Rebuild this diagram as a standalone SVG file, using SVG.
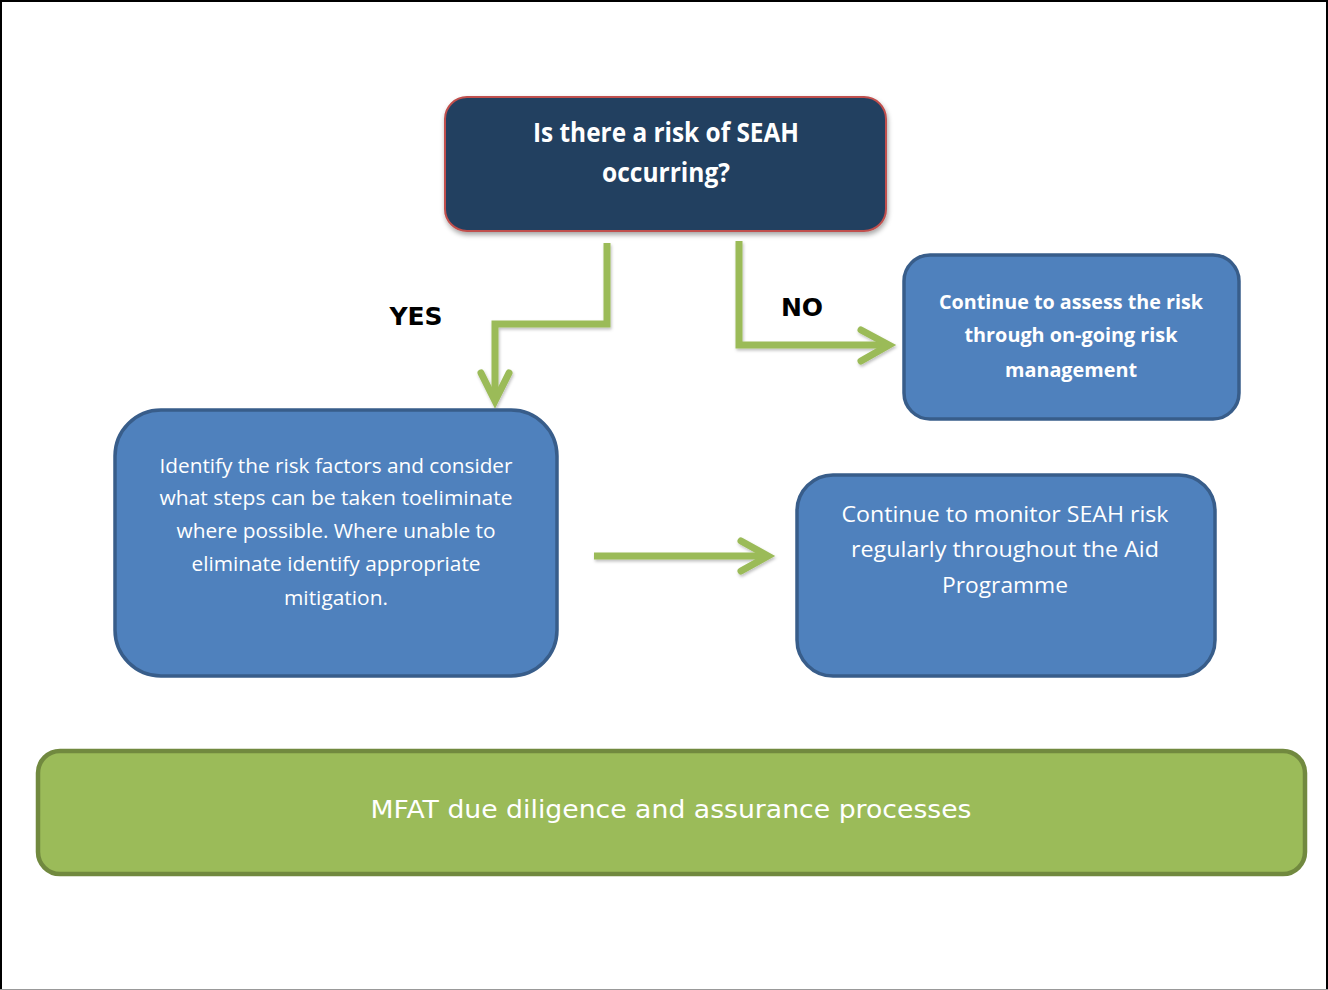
<svg xmlns="http://www.w3.org/2000/svg" width="1328" height="990" viewBox="0 0 1328 990">
<defs>
<style>
.blue{fill:#4F81BD;stroke:#385D8A;stroke-width:3.5}
.conn{fill:none;stroke:#9BBB59;stroke-width:7;stroke-linecap:butt}
.head{fill:none;stroke:#9BBB59;stroke-width:7;stroke-linecap:round;stroke-linejoin:miter}
.wt{fill:#FFFFFF;font-family:"Open Sans","Liberation Sans",sans-serif;text-anchor:middle}
.wb{fill:#FFFFFF;font-family:"Open Sans","Liberation Sans",sans-serif;font-weight:bold;text-anchor:middle}
.lab{fill:#000000;font-family:"DejaVu Sans",Verdana,sans-serif;font-weight:bold;font-size:25px;text-anchor:middle}
</style>
<filter id="sh" x="-10%" y="-10%" width="120%" height="130%">
<feDropShadow dx="1" dy="3" stdDeviation="2.5" flood-color="#000" flood-opacity="0.35"/>
</filter>
<filter id="sh2" x="-10%" y="-10%" width="120%" height="130%">
<feDropShadow dx="1" dy="2" stdDeviation="1.5" flood-color="#000" flood-opacity="0.25"/>
</filter>
</defs>
<rect x="0" y="0" width="1328" height="990" fill="#FFFFFF"/>
<path d="M1,990 V1 H1327 V990" fill="none" stroke="#000" stroke-width="2"/>
<line x1="0" y1="989.5" x2="1328" y2="989.5" stroke="#999" stroke-width="1"/>

<g id="connectors" filter="url(#sh2)">
<polyline class="conn" points="607,243 607,324 495,324 495,400"/>
<polyline class="head" points="481,373 495,401 509,373"/>
<polyline class="conn" points="739,241 739,345 886,345"/>
<polyline class="head" points="861,330 889,345 861,361"/>
<line class="conn" x1="594" y1="556" x2="766" y2="556"/>
<polyline class="head" points="741,541 768,556 741,571"/>
</g>

<g id="node-question">
<rect x="445" y="97" width="441" height="134" rx="22" fill="#243F60" stroke="#C0504D" stroke-width="2" filter="url(#sh)"/>
<text class="wb" x="666" y="142" font-size="26" textLength="266" lengthAdjust="spacingAndGlyphs">Is there a risk of SEAH</text>
<text class="wb" x="666" y="182" font-size="26" textLength="128" lengthAdjust="spacingAndGlyphs">occurring?</text>
</g>

<g id="label-yes"><text class="lab" x="416" y="325">YES</text></g>
<g id="label-no"><text class="lab" x="802" y="316">NO</text></g>

<g id="node-assess">
<rect class="blue" x="904" y="255" width="335" height="164" rx="26"/>
<text class="wb" x="1071" y="309" font-size="20" textLength="264" lengthAdjust="spacingAndGlyphs">Continue to assess the risk</text>
<text class="wb" x="1071" y="342" font-size="20" textLength="213" lengthAdjust="spacingAndGlyphs">through on-going risk</text>
<text class="wb" x="1071" y="377" font-size="20" textLength="132" lengthAdjust="spacingAndGlyphs">management</text>
</g>

<g id="node-identify">
<rect class="blue" x="115" y="410" width="442" height="266" rx="46"/>
<text class="wt" x="336" y="473" font-size="19.5" textLength="353" lengthAdjust="spacingAndGlyphs">Identify the risk factors and consider</text>
<text class="wt" x="336" y="505" font-size="19.5" textLength="353" lengthAdjust="spacingAndGlyphs">what steps can be taken toeliminate</text>
<text class="wt" x="336" y="538" font-size="19.5" textLength="319" lengthAdjust="spacingAndGlyphs">where possible. Where unable to</text>
<text class="wt" x="336" y="571" font-size="19.5" textLength="289" lengthAdjust="spacingAndGlyphs">eliminate identify appropriate</text>
<text class="wt" x="336" y="605" font-size="19.5" textLength="104" lengthAdjust="spacingAndGlyphs">mitigation.</text>
</g>

<g id="node-monitor">
<rect class="blue" x="797" y="475" width="418" height="201" rx="36"/>
<text class="wt" x="1005" y="522" font-size="22.5" textLength="327" lengthAdjust="spacingAndGlyphs">Continue to monitor SEAH risk</text>
<text class="wt" x="1005" y="557" font-size="22.5" textLength="308" lengthAdjust="spacingAndGlyphs">regularly throughout the Aid</text>
<text class="wt" x="1005" y="593" font-size="22.5" textLength="126" lengthAdjust="spacingAndGlyphs">Programme</text>
</g>

<g id="node-mfat">
<rect x="38" y="751" width="1267" height="123" rx="22" fill="#9BBB59" stroke="#71893F" stroke-width="4.5"/>
<text x="671" y="818" font-family="DejaVu Sans,Verdana,sans-serif" font-size="25" fill="#FFFFFF" text-anchor="middle" textLength="601" lengthAdjust="spacingAndGlyphs">MFAT due diligence and assurance processes</text>
</g>
</svg>
